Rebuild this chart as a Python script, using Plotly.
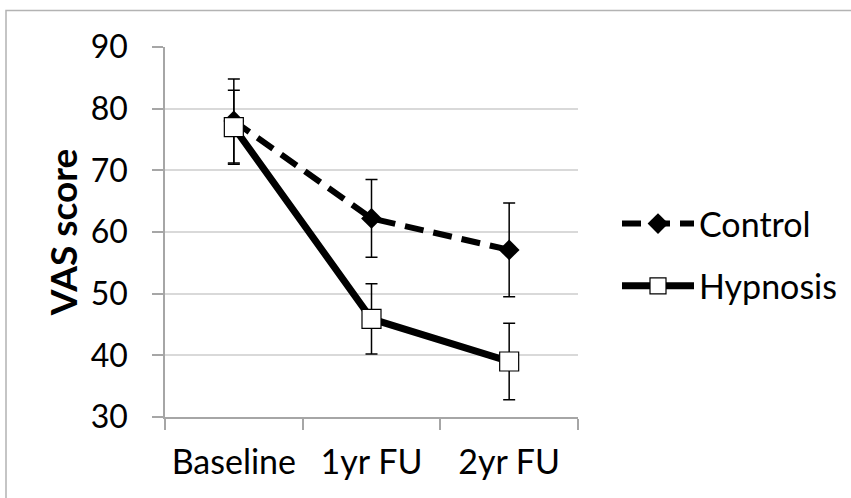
import plotly.graph_objects as go

categories = ["Baseline", "1yr FU", "2yr FU"]
control_vals = [78.0, 62.2, 57.1]
control_err = [6.8, 6.3, 7.6]
hypnosis_vals = [77.0, 45.9, 39.0]
hypnosis_err = [6.0, 5.7, 6.2]
y_ticks = [30, 40, 50, 60, 70, 80, 90]

W, H = 851, 498
L, R, T, B = 165, 851 - 578, 47, 498 - 417
pw, ph = W - L - R, H - T - B

FONT = "Lato"

fig = go.Figure()
fig.add_trace(go.Scatter(
    x=categories, y=control_vals, name="Control", mode="lines+markers",
    legendgroup="c",
    line=dict(color="black", width=6, dash="19px,10px"),
    marker=dict(symbol="diamond", size=16, color="black"),
    error_y=dict(type="data", array=control_err, visible=True,
                 color="black", thickness=1.5, width=6),
))
fig.add_trace(go.Scatter(
    x=categories, y=hypnosis_vals, name="Hypnosis", mode="lines+markers",
    legendgroup="h",
    line=dict(color="black", width=7),
    marker=dict(symbol="square", size=19, color="white",
                line=dict(color="black", width=1.2)),
    error_y=dict(type="data", array=hypnosis_err, visible=True,
                 color="black", thickness=1.5, width=6),
))

fig.update_layout(
    width=W, height=H,
    margin=dict(l=L, r=R, t=T, b=B, pad=0, autoexpand=False),
    paper_bgcolor="white", plot_bgcolor="white",
    font=dict(family=FONT, size=34, color="black"),
    showlegend=True,
    legend=dict(x=(620 - L - 3) / pw, y=(417 - 195) / ph, xanchor="left", yanchor="top",
                font=dict(family=FONT, size=34, color="black"),
                itemwidth=72, tracegroupgap=15, traceorder="grouped",
                bgcolor="rgba(0,0,0,0)"),
    shapes=[dict(type="rect", xref="paper", yref="paper",
                 x0=(6 - L) / pw, x1=(870 - L) / pw,
                 y0=(417 - 510) / ph, y1=(417 - 10.5) / ph,
                 line=dict(color="#b3b3b3", width=1.5), layer="below")],
)

fig.update_xaxes(
    type="category", range=[-0.5, 2.5], showgrid=False,
    showline=True, linecolor="#a6a6a6", linewidth=1.5,
    ticks="outside", ticklen=11, tickwidth=1.5, tickcolor="#a6a6a6",
    tickson="boundaries", ticklabelstandoff=14, automargin=False,
    tickfont=dict(family=FONT, size=34, color="black"),
)
fig.update_yaxes(
    range=[30, 90], tickvals=y_ticks, showgrid=True, gridcolor="#d9d9d9", gridwidth=1.5,
    showline=True, linecolor="#a6a6a6", linewidth=1.5,
    ticks="outside", ticklen=11, tickwidth=1.5, tickcolor="#a6a6a6",
    ticklabelstandoff=18, zeroline=False, automargin=False,
    tickfont=dict(family=FONT, size=32, color="black"),
    title=dict(text="<b>VAS score</b>", font=dict(family=FONT, size=37, color="black"),
               standoff=2),
)

fig.write_html("out.html", config={"displayModeBar": False},
               post_script="document.body.style.margin='0';")
